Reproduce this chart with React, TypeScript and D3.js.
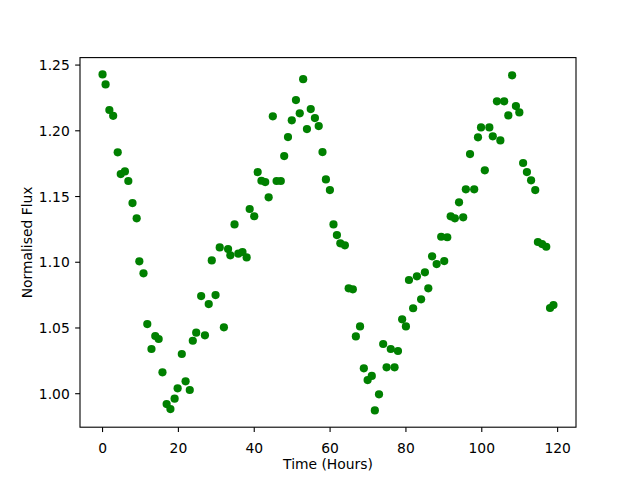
import React from "react";
import * as d3 from "d3";

const hours: number[] = [
  0.0, 0.8, 1.8, 2.8, 4.0, 4.8, 5.9, 6.8, 7.9, 9.0,
  9.7, 10.8, 11.8, 12.9, 13.9, 14.8, 15.8, 16.9, 17.9, 19.0,
  19.8, 20.9, 21.9, 23.0, 23.8, 24.7, 26.0, 27.0, 28.0, 28.8,
  29.8, 30.9, 32.0, 33.1, 33.7, 34.8, 35.8, 36.9, 38.0, 38.8,
  40.0, 40.9, 41.9, 42.9, 43.8, 44.9, 45.9, 47.0, 47.9, 48.9,
  49.9, 51.0, 52.0, 52.9, 53.9, 54.9, 56.0, 57.0, 58.0, 58.9,
  59.95, 60.9, 61.8, 62.7, 63.9, 64.9, 66.0, 66.8, 67.9, 68.9,
  69.9, 71.0, 71.8, 72.9, 74.0, 74.9, 76.0, 77.0, 77.9, 79.0,
  80.0, 80.8, 81.9, 82.9, 84.0, 85.0, 85.9, 86.9, 88.1, 89.3,
  90.1, 90.9, 91.8, 92.9, 94.0, 95.1, 95.8, 96.9, 98.0, 99.0,
  99.8, 100.8, 102.0, 102.9, 104.0, 104.9, 105.9, 107.0, 108.0, 109.0,
  109.9, 110.9, 111.9, 113.0, 114.1, 114.8, 115.9, 117.0, 118.0, 118.9,
];

const flux: number[] = [
  1.2429, 1.2353, 1.2158, 1.2114, 1.1836, 1.1671, 1.1691, 1.1618, 1.1450, 1.1334,
  1.1007, 1.0916, 1.0530, 1.0340, 1.0439, 1.0416, 1.0163, 0.9921, 0.9883, 0.9962,
  1.0041, 1.0302, 1.0094, 1.0028, 1.0403, 1.0464, 1.0743, 1.0444, 1.0682, 1.1014,
  1.0750, 1.1113, 1.0505, 1.1100, 1.1053, 1.1288, 1.1065, 1.1078, 1.1037, 1.1405,
  1.1350, 1.1686, 1.1620, 1.1610, 1.1494, 1.2110, 1.1618, 1.1618, 1.1808, 1.1952,
  1.2080, 1.2234, 1.2133, 1.2393, 1.2013, 1.2165, 1.2097, 1.2036, 1.1838, 1.1630,
  1.1549, 1.1288, 1.1207, 1.1144, 1.1129, 1.0802, 1.0794, 1.0436, 1.0512, 1.0193,
  1.0104, 1.0135, 0.9873, 0.9995, 1.0378, 1.0201, 1.0340, 1.0201, 1.0325, 1.0566,
  1.0512, 1.0865, 1.0650, 1.0893, 1.0718, 1.0923, 1.0802, 1.1045, 1.0986, 1.1194,
  1.1009, 1.1190, 1.1349, 1.1334, 1.1456, 1.1342, 1.1555, 1.1823, 1.1555, 1.1950,
  1.2026, 1.1699, 1.2026, 1.1958, 1.2224, 1.1927, 1.2224, 1.2117, 1.2422, 1.2188,
  1.2140, 1.1755, 1.1686, 1.1623, 1.1549, 1.1154, 1.1138, 1.1118, 1.0652, 1.0674,
];

const xTicks: number[] = [0, 20, 40, 60, 80, 100, 120];
const yTicks: number[] = [1.0, 1.05, 1.1, 1.15, 1.2, 1.25];

const W = 640;
const H = 480;
const L = 80;
const R = 576;
const T = 57.6;
const B = 427.2;
const FONT = "DejaVu Sans, sans-serif";

function padded(vals: number[]): [number, number] {
  const [lo, hi] = d3.extent(vals) as [number, number];
  const p = (hi - lo) * 0.05;
  return [lo - p, hi + p];
}

export default function App() {
  const x = d3.scaleLinear().domain(padded(hours)).range([L, R]);
  const y = d3.scaleLinear().domain(padded(flux)).range([B, T]);
  const tick = 4.86;
  const fmt = d3.format(".2f");

  return (
    <svg
      width={W}
      height={H}
      style={{ position: "absolute", left: 0, top: 0, background: "#fff" }}
      fontFamily={FONT}
    >
      <rect x={0} y={0} width={W} height={H} fill="#fff" />
      <g>
        {hours.map((h, i) => (
          <circle key={i} cx={x(h)} cy={y(flux[i])} r={4.1} fill="#008000" />
        ))}
      </g>
      <rect
        x={L}
        y={T}
        width={R - L}
        height={B - T}
        fill="none"
        stroke="#000"
        strokeWidth={1.1}
      />
      {xTicks.map((t) => (
        <g key={"x" + t}>
          <line x1={x(t)} x2={x(t)} y1={B} y2={B + tick} stroke="#000" strokeWidth={1.1} />
          <text x={x(t)} y={452.5} fontSize={13.89} textAnchor="middle" fill="#000">
            {t}
          </text>
        </g>
      ))}
      {yTicks.map((t) => (
        <g key={"y" + t}>
          <line x1={L - tick} x2={L} y1={y(t)} y2={y(t)} stroke="#000" strokeWidth={1.1} />
          <text x={L - 2 * tick - 0.5} y={y(t)} dy={5} fontSize={13.89} textAnchor="end" fill="#000">
            {fmt(t)}
          </text>
        </g>
      ))}
      <text x={(L + R) / 2} y={468.5} fontSize={13.89} textAnchor="middle" fill="#000">
        Time (Hours)
      </text>
      <text
        transform={`translate(31.5, ${(T + B) / 2}) rotate(-90)`}
        fontSize={13.89}
        textAnchor="middle"
        fill="#000"
      >
        Normalised Flux
      </text>
    </svg>
  );
}
